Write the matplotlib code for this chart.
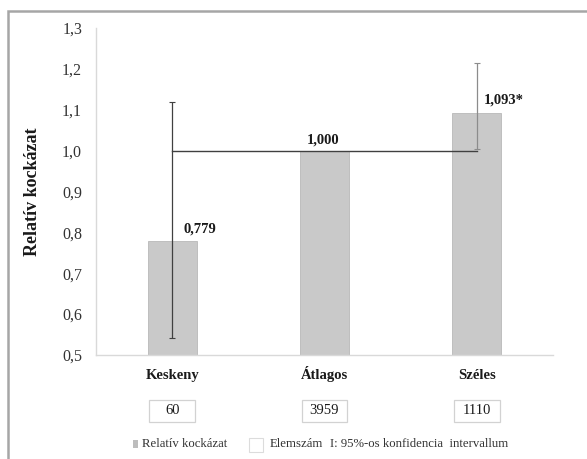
import matplotlib.pyplot as plt
from matplotlib.patches import Rectangle
from matplotlib.transforms import blended_transform_factory

categories = ["Keskeny", "Átlagos", "Széles"]
risk = [0.779, 1.000, 1.093]
value_labels = ["0,779", "1,000", "1,093*"]
ci_low = [0.542, None, 1.003]
ci_high = [1.120, None, 1.215]
counts = ["60", "3959", "1110"]
yticks = [0.5, 0.6, 0.7, 0.8, 0.9, 1.0, 1.1, 1.2, 1.3]

plt.rcParams['font.family'] = ['Liberation Serif', 'DejaVu Serif']

W, H = 587, 459
fig = plt.figure(figsize=(W / 100, H / 100), dpi=100)

# outer frame (runs off the right and bottom edges)
fig.add_artist(Rectangle((7.5 / W, -0.1), 1.2, 1 - 10.5 / H + 0.1, transform=fig.transFigure,
                         fill=False, edgecolor='#a6a6a6', linewidth=1.8))

ax = fig.add_axes([96 / W, 1 - 355 / H, (553 - 96) / W, (355 - 28) / H])
x = list(range(len(categories)))
ax.bar(x, risk, width=0.32, color='#c9c9c9', edgecolor='#b8b8b8', linewidth=0.6, zorder=2)

# reference line and confidence intervals
ax.plot([x[0], x[-1]], [1.0, 1.0], color='#404040', linewidth=1.0, zorder=3)
for i in x:
    if ci_low[i] is None:
        continue
    col = '#404040' if i == 0 else '#8c8c8c'
    mid = (ci_low[i] + ci_high[i]) / 2
    half = (ci_high[i] - ci_low[i]) / 2
    ax.errorbar(i, mid, yerr=half, fmt='none',
                ecolor=col, elinewidth=0.9, capsize=2, capthick=0.8, zorder=4)

offsets = [(0.18, 0.02), (-0.01, 0.018), (0.18, 0.022)]
for i, lab in enumerate(value_labels):
    dx, dy = offsets[i]
    ax.text(i + dx, risk[i] + dy, lab, ha='center', va='baseline', fontsize=10.5,
            fontweight='bold', color='#1a1a1a', zorder=5)

ax.set_xlim(-0.5, 2.5)
ax.set_ylim(0.5, 1.3)
ax.set_yticks(yticks)
ax.set_yticklabels([f"{t:.1f}".replace('.', ',') for t in yticks], fontsize=11.5, color='#333333')
ax.set_xticks([])
ax.tick_params(axis='both', length=0)
ax.tick_params(axis='y', pad=10)
for s in ['top', 'right']:
    ax.spines[s].set_visible(False)
for s in ['left', 'bottom']:
    ax.spines[s].set_color('#d9d9d9')
    ax.spines[s].set_linewidth(1.0)
ax.set_ylabel("Relatív kockázat", fontsize=13, fontweight='bold', color='#1a1a1a', labelpad=15)

# category names and count boxes below the axis
trans = blended_transform_factory(ax.transData, fig.transFigure)
for i, (cat, c) in enumerate(zip(categories, counts)):
    ax.text(i, 1 - 379 / H, cat, transform=trans, ha='center', va='baseline', fontsize=10.5,
            fontweight='bold', color='#1a1a1a')
    ax.add_patch(Rectangle((i - 0.15, 1 - 422 / H), 0.30, 22 / H, transform=trans,
                           facecolor='white', edgecolor='#d2d2d2', linewidth=0.9, clip_on=False))
    ax.text(i, 1 - 411 / H, c, transform=trans, ha='center', va='center', fontsize=10.5,
            color='#1a1a1a')

# legend row
fig.add_artist(Rectangle((133 / W, 1 - 448 / H), 5 / W, 8 / H, transform=fig.transFigure,
                         facecolor='#bdbdbd', edgecolor='none'))
fig.text(142 / W, 1 - 444 / H, "Relatív kockázat", fontsize=9.2, va='center', color='#333333')
fig.add_artist(Rectangle((249 / W, 1 - 452 / H), 14 / W, 14 / H, transform=fig.transFigure,
                         facecolor='white', edgecolor='#dcdcdc', linewidth=0.8))
fig.text(270 / W, 1 - 444 / H, "Elemszám", fontsize=9.2, va='center', color='#333333')
fig.text(330 / W, 1 - 444 / H, "I: 95%-os konfidencia  intervallum", fontsize=9.2, va='center',
         color='#333333')

fig.savefig("out.png", dpi=100)
